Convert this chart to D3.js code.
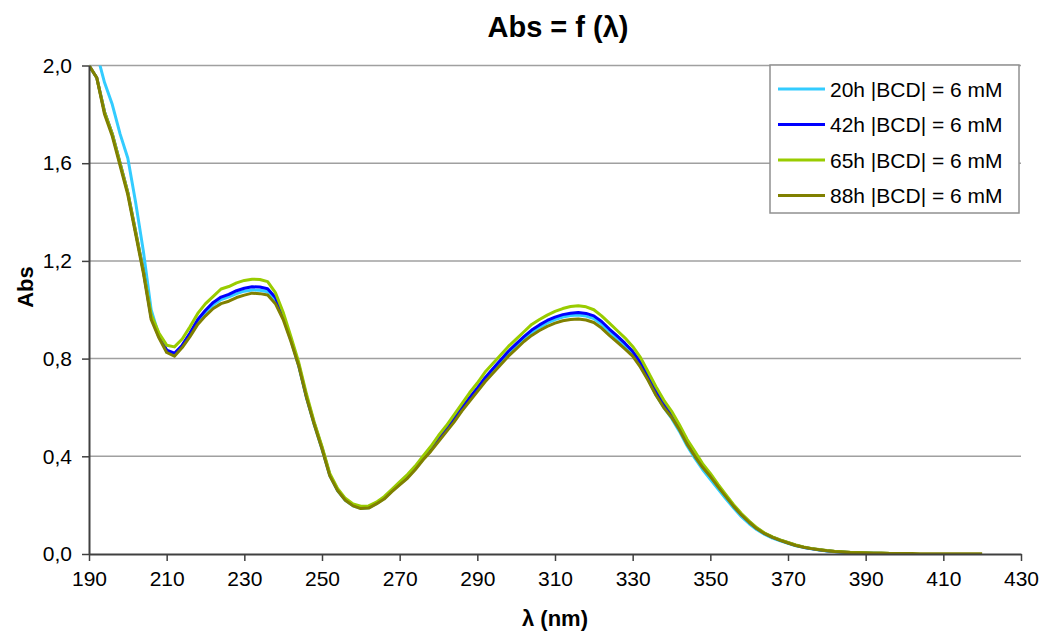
<!DOCTYPE html>
<html lang="fr">
<head>
  <meta charset="UTF-8">
  <title>Abs = f (λ)</title>
  <script src="https://d3js.org/d3.v7.min.js"></script>
  <style>
    body { margin: 0; background: #fff; font-family: "Liberation Sans", Arial, sans-serif; }
    #chart { width: 1044px; height: 635px; }
  </style>
</head>
<body>
  <div id="chart"></div>

  <script>
    // wavelength grid (nm), 2 nm step
    const lambda = d3.range(190, 421, 2);

    const serie20h = [null, 2.05, 1.93, 1.84, 1.72, 1.62, 1.44, 1.24, 1.0, 0.895,
      0.832, 0.818, 0.85, 0.9, 0.955, 0.99, 1.02, 1.042, 1.053, 1.066,
      1.076, 1.081, 1.08, 1.074, 1.04, 0.968, 0.875, 0.77, 0.64, 0.53,
      0.43, 0.322, 0.26, 0.22, 0.197, 0.187, 0.189, 0.206, 0.227, 0.257,
      0.285, 0.313, 0.348, 0.388, 0.425, 0.465, 0.506, 0.547, 0.592, 0.633,
      0.673, 0.714, 0.75, 0.786, 0.821, 0.851, 0.881, 0.907, 0.928, 0.946,
      0.96, 0.97, 0.976, 0.978, 0.974, 0.964, 0.94, 0.91, 0.882, 0.851,
      0.818, 0.772, 0.714, 0.652, 0.6, 0.556, 0.503, 0.443, 0.392, 0.346,
      0.306, 0.266, 0.226, 0.188, 0.153, 0.124, 0.099, 0.08, 0.065, 0.054,
      0.044, 0.034, 0.027, 0.021, 0.016, 0.012, 0.009, 0.007, 0.005, 0.004,
      0.003, 0.003, 0.002, 0.002];

    const serie42h = [2.0, 1.95, 1.81, 1.72, 1.6, 1.48, 1.32, 1.16, 0.97, 0.89,
      0.835, 0.822, 0.855, 0.905, 0.96, 0.998, 1.03, 1.052, 1.063, 1.078,
      1.088, 1.094, 1.093, 1.086, 1.05, 0.975, 0.88, 0.775, 0.645, 0.535,
      0.435, 0.325, 0.263, 0.223, 0.2, 0.19, 0.191, 0.208, 0.23, 0.26,
      0.288, 0.317, 0.352, 0.392, 0.43, 0.47, 0.512, 0.553, 0.598, 0.64,
      0.68, 0.722, 0.758, 0.794, 0.83, 0.86, 0.89, 0.917, 0.938, 0.956,
      0.97, 0.98, 0.986, 0.989, 0.985, 0.975, 0.952, 0.921, 0.893, 0.863,
      0.83, 0.785, 0.728, 0.668, 0.615, 0.572, 0.52, 0.46, 0.41, 0.362,
      0.322, 0.28, 0.239, 0.198, 0.162, 0.132, 0.105, 0.084, 0.069, 0.057,
      0.046, 0.036, 0.028, 0.022, 0.017, 0.013, 0.01, 0.008, 0.006, 0.005,
      0.004, 0.003, 0.003, 0.002];

    const serie65h = [2.0, 1.95, 1.81, 1.72, 1.6, 1.48, 1.32, 1.16, 0.98, 0.905,
      0.855, 0.848, 0.88, 0.93, 0.985, 1.025, 1.055, 1.085, 1.095, 1.11,
      1.12, 1.125, 1.124, 1.115, 1.07, 0.99, 0.89, 0.785, 0.655, 0.54,
      0.44, 0.33, 0.268, 0.228, 0.205, 0.196, 0.197, 0.212, 0.235, 0.265,
      0.295, 0.325, 0.36, 0.4, 0.44, 0.485, 0.525, 0.57, 0.615, 0.66,
      0.7, 0.745, 0.78, 0.815, 0.85, 0.88, 0.91, 0.94, 0.96, 0.978,
      0.993, 1.005, 1.013, 1.016, 1.012, 1.0, 0.975, 0.945, 0.915, 0.885,
      0.85, 0.805, 0.745, 0.685, 0.63, 0.585, 0.53, 0.47, 0.42, 0.37,
      0.33, 0.285, 0.243, 0.202, 0.166, 0.135, 0.107, 0.086, 0.07, 0.058,
      0.047, 0.037, 0.029, 0.023, 0.018, 0.014, 0.011, 0.009, 0.007, 0.006,
      0.005, 0.004, 0.004, 0.003];

    const serie88h = [2.0, 1.95, 1.8, 1.71, 1.59, 1.47, 1.31, 1.15, 0.96, 0.885,
      0.825, 0.81, 0.845, 0.89, 0.94, 0.975, 1.005, 1.025, 1.035, 1.05,
      1.06, 1.068, 1.066, 1.06, 1.025, 0.96, 0.87, 0.77, 0.64, 0.53,
      0.43, 0.32, 0.26, 0.22, 0.197, 0.186, 0.188, 0.205, 0.225, 0.255,
      0.283, 0.31, 0.345, 0.385, 0.42, 0.46, 0.5, 0.54, 0.585, 0.625,
      0.665, 0.705, 0.74, 0.775, 0.81, 0.84, 0.87, 0.895, 0.915, 0.932,
      0.945, 0.955, 0.96, 0.962, 0.958, 0.948, 0.925, 0.895, 0.868, 0.84,
      0.81, 0.765, 0.71, 0.65, 0.6, 0.56, 0.51, 0.45, 0.4, 0.355,
      0.317, 0.275, 0.235, 0.195, 0.16, 0.13, 0.103, 0.083, 0.068, 0.056,
      0.045, 0.035, 0.028, 0.022, 0.017, 0.013, 0.01, 0.008, 0.006, 0.005,
      0.004, 0.003, 0.003, 0.002, 0.002, 0.002, 0.002, 0.001, 0.001, 0.001,
      0.001, 0.001, 0.001, 0.001, 0.001, 0.001];

    const seriesNames = ["20h |BCD| = 6 mM", "42h |BCD| = 6 mM", "65h |BCD| = 6 mM", "88h |BCD| = 6 mM"];
    const seriesColors = ["#33ccff", "#0000ff", "#99cc00", "#808000"];
    const xTicks = d3.range(190, 431, 20);
    const yTicks = [0, 0.4, 0.8, 1.2, 1.6, 2.0];

    const width = 1044, height = 635;
    const margin = { left: 89, right: 23, top: 65.5, bottom: 81 };

    const svg = d3.select("#chart").append("svg")
                  .attr("width", width)
                  .attr("height", height)
                  .style("font-family", "'Liberation Sans', Arial, sans-serif");

    const xScale = d3.scaleLinear()
                     .domain([190, 430])
                     .range([margin.left, width - margin.right]);
    const yScale = d3.scaleLinear()
                     .domain([0, 2])
                     .range([height - margin.bottom, margin.top]);

    // horizontal grid
    svg.append("g")
       .selectAll("line")
       .data(yTicks.filter(d => d > 0))
       .join("line")
       .attr("x1", xScale(190))
       .attr("x2", xScale(430))
       .attr("y1", d => yScale(d))
       .attr("y2", d => yScale(d))
       .attr("stroke", "#a0a0a0")
       .attr("stroke-width", 1.5);

    svg.append("clipPath").attr("id", "plotClip")
       .append("rect")
       .attr("x", xScale(190))
       .attr("y", yScale(2))
       .attr("width", xScale(430) - xScale(190))
       .attr("height", yScale(0) - yScale(2));

    const allSeries = [serie20h, serie42h, serie65h, serie88h];
    const line = d3.line()
                   .defined(d => d.v != null)
                   .x(d => xScale(d.x))
                   .y(d => yScale(d.v));

    svg.append("g")
       .attr("clip-path", "url(#plotClip)")
       .selectAll("path")
       .data(allSeries)
       .join("path")
       .attr("fill", "none")
       .attr("stroke", (d, i) => seriesColors[i])
       .attr("stroke-width", 3)
       .attr("stroke-linejoin", "round")
       .attr("d", s => line(s.map((v, i) => ({ x: lambda[i], v: v }))));

    // axes
    const xAxis = d3.axisBottom(xScale).tickValues(xTicks).tickSize(7).tickSizeOuter(0).tickPadding(10);
    const yAxis = d3.axisLeft(yScale).tickValues(yTicks).tickSize(7).tickSizeOuter(0).tickPadding(10)
                    .tickFormat(d => d3.format(".1f")(d).replace(".", ","));

    const gx = svg.append("g")
       .attr("transform", `translate(0, ${yScale(0)})`)
       .call(xAxis);
    const gy = svg.append("g")
       .attr("transform", `translate(${xScale(190)}, 0)`)
       .call(yAxis);

    [gx, gy].forEach(g => {
      g.select(".domain").attr("stroke", "#404040").attr("stroke-width", 2);
      g.selectAll(".tick line").attr("stroke", "#404040").attr("stroke-width", 1.5);
      g.selectAll(".tick text").attr("fill", "#000").style("font-size", "21px")
       .style("font-family", "'Liberation Sans', Arial, sans-serif");
    });

    // titles
    svg.append("text")
       .attr("x", (xScale(190) + xScale(430)) / 2 + 3)
       .attr("y", 37)
       .attr("text-anchor", "middle")
       .style("font-size", "29px")
       .style("font-weight", "bold")
       .text("Abs = f (λ)");

    svg.append("text")
       .attr("x", (xScale(190) + xScale(430)) / 2)
       .attr("y", 626)
       .attr("text-anchor", "middle")
       .style("font-size", "22px")
       .style("font-weight", "bold")
       .text("λ (nm)");

    svg.append("text")
       .attr("transform", "translate(33, 287) rotate(-90)")
       .attr("text-anchor", "middle")
       .style("font-size", "22px")
       .style("font-weight", "bold")
       .text("Abs");

    // legend
    const legend = svg.append("g").attr("transform", "translate(770, 65)");
    legend.append("rect")
          .attr("width", 249)
          .attr("height", 148)
          .attr("fill", "#fff")
          .attr("stroke", "#909090")
          .attr("stroke-width", 1.5);
    const items = legend.selectAll("g.item")
          .data(seriesNames)
          .join("g")
          .attr("class", "item")
          .attr("transform", (d, i) => `translate(0, ${24 + i * 35.5})`);
    items.append("line")
         .attr("x1", 8).attr("x2", 55)
         .attr("stroke", (d, i) => seriesColors[i])
         .attr("stroke-width", 3);
    items.append("text")
         .attr("x", 60)
         .attr("y", 7.5)
         .style("font-size", "21px")
         .text(d => d);
  </script>
</body>
</html>
